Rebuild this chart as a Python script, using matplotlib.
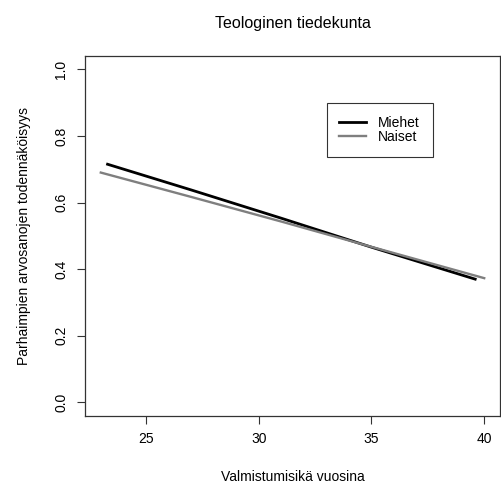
# Teologinen tiedekunta - ennustetut todennäköisyydet

import numpy as np
import matplotlib
matplotlib.use('Agg')
import matplotlib.pyplot as plt

plt.rcParams['font.family'] = ['Liberation Sans', 'DejaVu Sans']

ika_miehet = [23.3, 27, 31, 35, 39.6]
p_miehet = [0.715, 0.638, 0.553, 0.466, 0.370]
ika_naiset = [23.0, 27, 31, 35, 40.0]
p_naiset = [0.690, 0.617, 0.543, 0.467, 0.373]

xticks = [25, 30, 35, 40]
yticks = [0.0, 0.2, 0.4, 0.6, 0.8, 1.0]

fig = plt.figure(figsize=(5.02, 4.92), dpi=100)
ax = fig.add_axes([85/502, 1-415.7/492, 415/502, 359.7/492])

ax.plot(ika_miehet, p_miehet, color='black', lw=2, label='Miehet')
ax.plot(ika_naiset, p_naiset, color='#7f7f7f', lw=1.7, label='Naiset')

ax.set_xlim(22.3, 40.7)
ax.set_ylim(-0.04, 1.04)
ax.set_xticks(xticks)
ax.set_xticklabels([str(v) for v in xticks], fontsize=10)
ax.set_yticks(yticks)
ax.set_yticklabels(['%.1f' % v for v in yticks], fontsize=10, rotation=90, va='center')
ax.tick_params(length=6, width=0.8, color='#333333', pad=6)
for s in ax.spines.values():
    s.set_color('#333333')
    s.set_linewidth(0.9)

ax.set_xlabel('Valmistumisikä vuosina', fontsize=10, labelpad=17)
ax.set_ylabel('Parhaimpien arvosanojen todennäköisyys', fontsize=10, labelpad=17)
ax.set_title('Teologinen tiedekunta', fontsize=11.5, pad=20)

leg = ax.legend(loc='upper left', bbox_to_anchor=(0.583, 0.869), fontsize=10,
                frameon=True, fancybox=False, edgecolor='black', borderaxespad=0,
                handlelength=1.9, handletextpad=0.9, borderpad=0.9, labelspacing=0.05)
leg.get_frame().set_linewidth(0.8)

fig.savefig('out.png', dpi=100)
